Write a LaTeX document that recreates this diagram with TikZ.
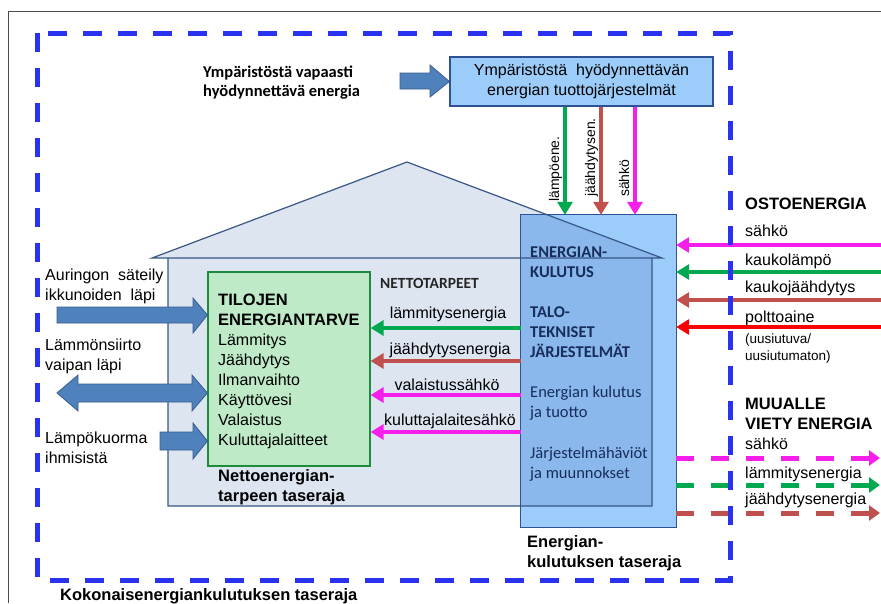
\documentclass[tikz,border=0pt]{standalone}
\usepackage{fontspec}
\setmainfont{Liberation Sans}
\newfontfamily\calibri{Carlito}
\usepackage{xcolor}
\definecolor{lampo}{RGB}{0,168,80}
\definecolor{jaahdytys}{RGB}{192,80,77}
\definecolor{sahko}{RGB}{245,30,235}
\definecolor{poltto}{RGB}{250,0,0}
\definecolor{rajasin}{RGB}{40,50,240}
\definecolor{laatikko}{RGB}{155,204,250}
\definecolor{laatikkoreuna}{RGB}{47,82,150}
\definecolor{talo}{RGB}{221,229,241}
\definecolor{talopeitto}{RGB}{138,184,236}
\definecolor{taloreuna}{RGB}{56,87,135}
\definecolor{vihrea}{RGB}{190,234,200}
\definecolor{vihreareuna}{RGB}{30,140,60}
\definecolor{nuolisin}{RGB}{79,129,189}
\definecolor{nuolireuna}{RGB}{56,93,138}
\definecolor{tummasin}{RGB}{23,45,90}
\usepackage{tikz}
\usetikzlibrary{arrows.meta}

\tikzset{
  every node/.style={inner sep=0pt, font=\fontsize{16}{20}\selectfont},
  teksti/.style={anchor=base west, align=left},
  lihava/.style={teksti, font=\fontsize{16.5}{20}\selectfont\bfseries},
  kalibri/.style={teksti, text=tummasin, font=\calibri\fontsize{16.5}{20}\selectfont},
  blockarrow/.style={fill=nuolisin, draw=nuolireuna, line width=0.8pt},
  virta/.style={line width=4.5pt, -{Triangle[length=13pt,width=15pt]}},
  vienti/.style={line width=5pt, dash pattern=on 18pt off 17pt, shorten >=1pt,
    -{Triangle[length=11pt,width=15pt]}},
}

\begin{document}
\begin{tikzpicture}[x=1pt,y=-1pt]
  \useasboundingbox (0,0) rectangle (881,603);
  \draw[line width=0.8pt, black!70] (8,603) -- (8,11) -- (881,11);

  \fill[talo] (152,258) -- (407,162) -- (662,258) -- cycle (168,258) rectangle (652,506);
  \node[fill=laatikko, minimum width=155pt, minimum height=312pt] (kulutus) at (598.5,371) {};
  \begin{scope}
    \clip (kulutus.south west) rectangle (kulutus.north east);
    \fill[talopeitto] (152,258) -- (407,162) -- (662,258) -- cycle (168,258) rectangle (652,506);
  \end{scope}
  \draw[taloreuna, line width=1.2pt] (152,258) -- (407,162) -- (662,258) -- cycle (168,258) rectangle (652,506);
  \draw[laatikkoreuna, line width=1.2pt] (kulutus.south west) rectangle (kulutus.north east);

  \node[draw=laatikkoreuna, fill=laatikko, line width=1.2pt, minimum width=263pt,
    minimum height=49pt, align=center] (tuotto) at (581.5,81.5)
    {Ympäristöstä\ \ hyödynnettävän\\energian tuottojärjestelmät};
  \node[draw=vihreareuna, fill=vihrea, line width=1.2pt, minimum width=162pt,
    minimum height=194pt] (tarve) at (289,369) {};

  \draw[blockarrow] (400,73) -- (430,73) -- (430,65) -- (tuotto.west) -- (430,97) -- (430,89) -- (400,89) -- cycle;
  \draw[blockarrow] (57,307) -- (193,307) -- (193,298) -- (tarve.west |- 0,315) -- (193,333) -- (193,323) -- (57,323) -- cycle;
  \draw[blockarrow] (57,393) -- (78,375) -- (78,384) -- (192,384) -- (192,375) -- (tarve.west |- 0,393)
    -- (192,411) -- (192,402) -- (78,402) -- (78,411) -- cycle;
  \draw[blockarrow] (160,432) -- (193,432) -- (193,423) -- (tarve.west |- 0,441) -- (193,459) -- (193,450) -- (160,450) -- cycle;

  \foreach \x/\c in {565/lampo, 601/jaahdytys, 635/sahko}
    \draw[virta, \c] (\x,0 |- tuotto.south) -- (\x,0 |- kulutus.north);
  \foreach \y/\c in {328/lampo, 361/jaahdytys, 395/sahko, 432/sahko}
    \draw[virta, \c] (kulutus.west |- 0,\y) -- (tarve.east |- 0,\y);

  \coordinate (reuna) at (881,0);
  \foreach \y/\c in {245/sahko, 272/lampo, 300/jaahdytys, 327/poltto}
    \draw[virta, \c] (reuna |- 0,\y) -- (kulutus.east |- 0,\y);
  \foreach \y/\c in {458/sahko, 485/lampo, 513/jaahdytys}
    \draw[vienti, \c] (kulutus.east |- 0,\y) -- (reuna |- 0,\y);

  \draw[rajasin, line width=5pt, dash pattern=on 19pt off 16pt] (37,33) -- (37,580) -- (730,580) -- (730,33) -- cycle;

  \node[lihava, font=\calibri\fontsize{16.5}{19}\selectfont\bfseries] at (203,96) {Ympäristöstä vapaasti\\hyödynnettävä energia};
  \node[teksti] at (45,300) {Auringon\ \ säteily\\ikkunoiden\ \ läpi};
  \node[teksti] at (45,370) {Lämmönsiirto\\vaipan läpi};
  \node[teksti] at (45,463) {Lämpökuorma\\ihmisistä};

  \node[lihava] at (218,325) {TILOJEN\\ENERGIANTARVE};
  \foreach \t [count=\i] in {Lämmitys, Jäähdytys, Ilmanvaihto, Käyttövesi, Valaistus, Kuluttajalaitteet}
    \node[teksti] at (218,325+20*\i) {\t};
  \node[lihava] at (218,501) {Nettoenergian-\\tarpeen taseraja};

  \node[kalibri, text=black!85, font=\calibri\fontsize{15.5}{19}\selectfont\bfseries] at (380,288) {NETTOTARPEET};
  \node[anchor=base] at (448,318) {lämmitysenergia};
  \node[anchor=base] at (450,354) {jäähdytysenergia};
  \node[anchor=base] at (447,390) {valaistussähkö};
  \node[anchor=base] at (450,425) {kuluttajalaitesähkö};

  \node[kalibri, font=\calibri\fontsize{16.5}{20}\selectfont\bfseries] at (530,277) {ENERGIAN-\\KULUTUS};
  \node[kalibri, font=\calibri\fontsize{16.5}{20}\selectfont\bfseries] at (530,357) {TALO-\\TEKNISET\\JÄRJESTELMÄT};
  \node[kalibri] at (530,417) {Energian kulutus\\ja tuotto};
  \node[kalibri] at (530,478) {Järjestelmähäviöt\\ja muunnokset};

  \node[rotate=90, anchor=base west, font=\fontsize{14}{16}\selectfont] at (559,202) {lämpöene.};
  \node[rotate=90, anchor=base west, font=\fontsize{14}{16}\selectfont] at (595,197) {jäähdytysen.};
  \node[rotate=90, anchor=base west, font=\fontsize{14}{16}\selectfont] at (629,197) {sähkö};

  \node[lihava] at (745,209) {OSTOENERGIA};
  \node[teksti] at (745,236) {sähkö};
  \node[teksti] at (745,265) {kaukolämpö};
  \node[teksti] at (745,292) {kaukojäähdytys};
  \node[teksti] at (745,322) {polttoaine};
  \node[teksti, font=\fontsize{13.5}{17}\selectfont] at (745,360) {(uusiutuva/\\uusiutumaton)};

  \node[lihava] at (745,429) {MUUALLE\\VIETY ENERGIA};
  \node[teksti] at (745,449) {sähkö};
  \node[teksti] at (745,478) {lämmitysenergia};
  \node[teksti] at (745,504) {jäähdytysenergia};

  \node[lihava] at (527,567) {Energian-\\kulutuksen taseraja};
  \node[lihava] at (60,600) {Kokonaisenergiankulutuksen taseraja};
\end{tikzpicture}
\end{document}
